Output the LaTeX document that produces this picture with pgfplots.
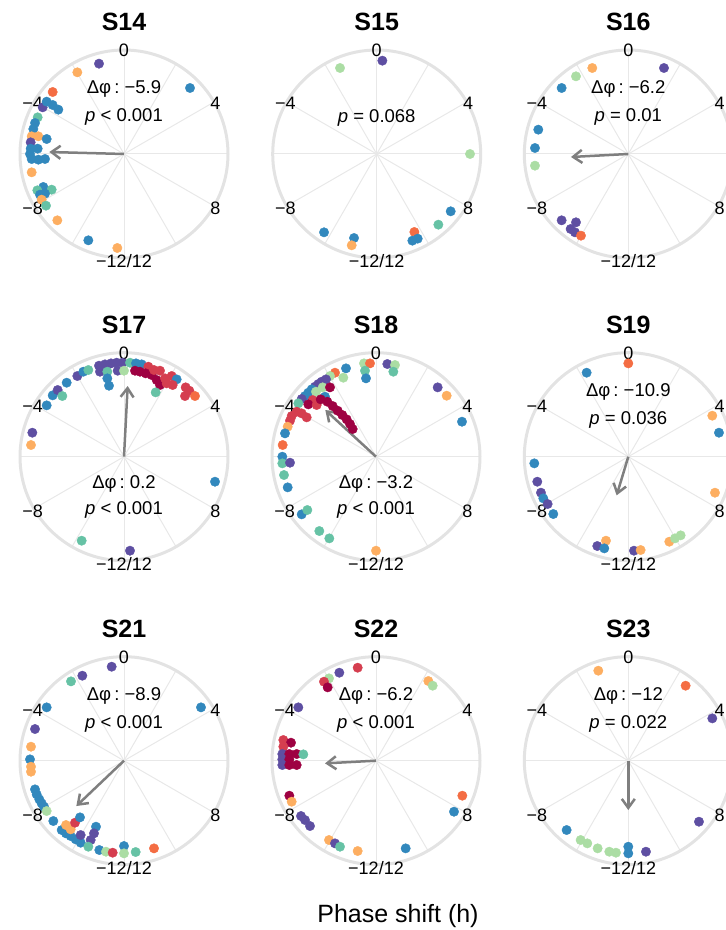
\documentclass[border=0pt]{standalone}
\usepackage{fontspec}
\setmainfont{Liberation Sans}
\usepackage{pgfplots}
\pgfplotsset{compat=1.18}
\usepackage{pgfplotstable}
\usetikzlibrary{arrows.meta}

% Spectral palette
\definecolor{cDR}{HTML}{9E0142}
\definecolor{cR}{HTML}{D53E4F}
\definecolor{cO}{HTML}{F46D43}
\definecolor{cLO}{HTML}{FDAE61}
\definecolor{cLG}{HTML}{ABDDA4}
\definecolor{cT}{HTML}{66C2A5}
\definecolor{cB}{HTML}{3288BD}
\definecolor{cP}{HTML}{5E4FA2}
\definecolor{ringc}{HTML}{E3E3E3}
\definecolor{spokec}{HTML}{E8E8E8}
\definecolor{arrc}{HTML}{7F7F7F}

\newcommand{\tickfs}{\fontsize{18}{21}\selectfont}
\newcommand{\annfs}{\fontsize{18.5}{21}\selectfont}
\newcommand{\bigfs}{\fontsize{25}{30}\selectfont}

% point positions, radius of circle = 312
\pgfplotstableread{
x y c
-75 271 P
-140 245 LO
-214 186 O
198 198 B
-244 140 P
-232 157 B
-214 147 B
-197 133 B
-259 110 T
-267 93 B
-272 75 B
-277 53 LO
-257 53 LO
-232 45 B
-280 35 P
-280 16 B
-259 16 B
-282 0 B
-277 -15 B
-257 -17 B
-237 -15 B
-277 -55 LO
-242 -99 B
-217 -107 T
-260 -109 T
-252 -122 B
-237 -119 B
-247 -137 LO
-234 -155 T
-200 -199 LO
-107 -259 B
-20 -282 LO
}\tabA

\pgfplotstableread{
x y c
17 280 P
-110 258 LG
280 0 LG
222 -172 B
185 -212 T
113 -234 O
107 -260 B
123 -254 B
-158 -235 B
-68 -252 B
-75 -274 LO
}\tabB

\pgfplotstableread{
x y c
-108 258 LO
107 258 P
-157 233 LG
-200 198 B
-270 73 B
-280 18 B
-280 -35 LG
-200 -199 P
-157 -205 P
-173 -225 P
-160 -235 P
-142 -245 O
}\tabC

\pgfplotstableread{
x y c
-275 72 P
-279 35 LO
-232 154 B
-214 184 B
-199 200 P
-185 182 T
-172 222 B
-140 242 P
-122 255 B
-107 260 T
-75 273 P
-57 277 P
-39 280 P
-22 282 P
-5 282 P
-72 255 P
-50 255 T
-19 258 P
-50 235 B
-45 213 B
0 258 LG
18 282 T
36 280 B
53 277 B
73 270 R
33 258 DR
48 255 DR
65 250 DR
83 245 DR
90 260 R
108 258 R
98 230 DR
108 215 DR
123 235 R
128 220 R
143 242 R
158 232 B
146 215 R
95 193 T
185 208 R
196 198 R
183 182 R
213 182 O
273 -75 B
-127 -252 T
18 -282 P
}\tabD

\pgfplotstableread{
x y c
-36 280 LG
-18 280 O
-33 258 T
-30 235 B
34 278 P
57 275 LG
52 255 T
-90 265 B
-123 252 O
-138 242 LG
-98 237 LG
-150 232 P
-163 225 P
-173 218 P
-183 210 P
-193 202 B
-203 192 B
-213 182 B
-223 173 P
-233 160 T
-180 195 LG
-160 208 LG
-138 208 DR
-153 180 B
-190 170 R
-203 157 DR
-178 155 R
-166 172 DR
-238 135 R
-253 122 R
-223 130 R
-208 118 R
-258 108 R
-265 90 LO
-273 70 B
-280 35 O
-281 0 B
-281 -20 T
-258 -18 P
-276 -55 T
-265 -92 B
-223 -173 B
-206 -160 T
-170 -223 T
-140 -245 T
0 -282 LO
-146 165 DR
-130 152 DR
-115 138 DR
-101 125 DR
-88 112 DR
-78 98 DR
-70 83 DR
185 208 P
212 183 LO
258 105 B
}\tabE

\pgfplotstableread{
x y c
0 280 O
-125 252 B
252 123 LO
272 72 B
260 -108 LO
-282 -20 B
-273 -75 P
-262 -108 P
-255 -125 B
-242 -142 P
-225 -172 B
-67 -252 LO
-93 -268 P
-72 -275 B
17 -282 P
37 -280 LO
123 -255 LO
140 -245 LG
157 -236 LG
}\tabF

\pgfplotstableread{
x y c
-37 282 P
-125 255 P
-159 238 T
-232 160 B
231 160 B
-267 95 P
-279 42 LO
-282 4 B
-279 -18 LO
-279 -33 LO
-267 -86 B
-262 -101 B
-254 -116 B
-247 -128 B
-240 -138 B
-232 -151 LG
-212 -181 B
-187 -208 B
-174 -218 B
-160 -226 B
-145 -236 B
-130 -246 B
-174 -193 LO
-160 -206 LO
-147 -186 R
-132 -170 B
-130 -223 P
-84 -198 B
-90 -218 P
-100 -238 P
-107 -258 T
-74 -268 B
-54 -273 LG
-34 -276 R
0 -256 B
0 -278 LG
35 -274 T
90 -263 O
}\tabG

\pgfplotstableread{
x y c
-55 279 R
-110 264 P
-141 247 LG
-156 237 R
-145 220 DR
157 239 LO
170 225 LG
-233 160 P
-278 62 R
-255 54 DR
-278 42 R
-281 20 P
-260 20 DR
-238 20 DR
-218 19 T
-281 4 P
-260 4 DR
-281 -13 P
-260 -13 DR
-238 -13 DR
-260 -105 DR
-253 -123 LO
-225 -166 P
-213 -178 P
-198 -196 P
-141 -238 LO
-123 -248 P
-108 -258 T
-55 -271 LO
89 -263 B
259 -105 O
234 -153 B
}\tabH

\pgfplotstableread{
x y c
-90 270 LO
172 225 O
252 127 P
212 -183 P
-185 -208 B
-143 -238 LG
-123 -248 LG
-92 -263 LG
-57 -273 LG
-37 -276 LG
0 -258 B
0 -278 B
53 -273 P
}\tabI

\pgfplotsset{
  panel/.style={width=208pt, height=208pt, scale only axis, hide axis,
    clip=false, anchor=center,
    xmin=-312, xmax=312, ymin=-312, ymax=312},
  dots/.style={scatter, only marks, mark=*, mark size=4.7pt,
    scatter src=explicit symbolic,
    scatter/classes={
      DR={mark=*,draw=cDR,fill=cDR}, R={mark=*,draw=cR,fill=cR},
      O={mark=*,draw=cO,fill=cO}, LO={mark=*,draw=cLO,fill=cLO},
      LG={mark=*,draw=cLG,fill=cLG}, T={mark=*,draw=cT,fill=cT},
      B={mark=*,draw=cB,fill=cB}, P={mark=*,draw=cP,fill=cP}}},
  shift arrow/.style={draw=arrc, line width=2.5pt,
    -{Straight Barb[length=9pt,width=13pt]}},
}
\tikzset{
  tl/.style={font=\tickfs, inner sep=0pt, anchor=center},
  ann/.style={font=\annfs, inner sep=0pt, anchor=base},
  ttl/.style={font=\bigfs\bfseries, inner sep=0pt, anchor=base},
}

\newcommand{\polarbg}[1]{%
  \draw[spokec, line width=1pt] (axis cs:0,312) -- (axis cs:0,-312);
  \draw[spokec, line width=1pt] (axis cs:156,270.2) -- (axis cs:-156,-270.2);
  \draw[spokec, line width=1pt] (axis cs:270.2,156) -- (axis cs:-270.2,-156);
  \draw[spokec, line width=1pt] (axis cs:312,0) -- (axis cs:-312,0);
  \draw[spokec, line width=1pt] (axis cs:270.2,-156) -- (axis cs:-270.2,156);
  \draw[spokec, line width=1pt] (axis cs:156,-270.2) -- (axis cs:-156,270.2);
  \draw[ringc, line width=3pt] (axis cs:0,0) circle[radius=312];
  \node[tl] at (axis cs:0,310) {0};
  \node[tl] at (axis cs:274,152) {4};
  \node[tl] at (axis cs:274,-164) {8};
  \node[tl] at (axis cs:0,-322) {−12/12};
  \node[tl] at (axis cs:-274,-164) {−8};
  \node[tl] at (axis cs:-274,152) {−4};
  \node[ttl] at (axis cs:0,369) {#1};
}

\begin{document}
\begin{tikzpicture}
\useasboundingbox (0,0) rectangle (726pt,930pt);
\clip (0,0) rectangle (726pt,930pt);

% row 1
\begin{axis}[panel, at={(124pt,776pt)}]
  \polarbg{S14}
  \addplot[dots] table[meta=c] {\tabA};
  \addplot[shift arrow] coordinates {(0,0) (-224,6)};
  \node[ann] at (axis cs:0,180) {Δφ\,:\ −5.9};
  \node[ann] at (axis cs:0,96) {\textit{p} < 0.001};
\end{axis}

\begin{axis}[panel, at={(376.7pt,776pt)}]
  \polarbg{S15}
  \addplot[dots] table[meta=c] {\tabB};
  \node[ann] at (axis cs:0,94) {\textit{p} = 0.068};
\end{axis}

\begin{axis}[panel, at={(628.3pt,776pt)}]
  \polarbg{S16}
  \addplot[dots] table[meta=c] {\tabC};
  \addplot[shift arrow] coordinates {(0,0) (-172,-9)};
  \node[ann] at (axis cs:0,180) {Δφ\,:\ −6.2};
  \node[ann] at (axis cs:0,96) {\textit{p} = 0.01};
\end{axis}

% row 2
\begin{axis}[panel, at={(124pt,473.3pt)}]
  \polarbg{S17}
  \addplot[dots] table[meta=c] {\tabD};
  \addplot[shift arrow] coordinates {(0,0) (11,212)};
  \node[ann] at (axis cs:0,-96) {Δφ\,:\ 0.2};
  \node[ann] at (axis cs:0,-174) {\textit{p} < 0.001};
\end{axis}

\begin{axis}[panel, at={(376pt,473.3pt)}]
  \polarbg{S18}
  \addplot[dots] table[meta=c] {\tabE};
  \addplot[shift arrow] coordinates {(0,0) (-152,140)};
  \node[ann] at (axis cs:0,-96) {Δφ\,:\ −3.2};
  \node[ann] at (axis cs:0,-174) {\textit{p} < 0.001};
\end{axis}

\begin{axis}[panel, at={(628.3pt,473.3pt)}]
  \polarbg{S19}
  \addplot[dots] table[meta=c] {\tabF};
  \addplot[shift arrow] coordinates {(0,0) (-35,-116)};
  \node[ann] at (axis cs:0,180) {Δφ\,:\ −10.9};
  \node[ann] at (axis cs:0,96) {\textit{p} = 0.036};
\end{axis}

% row 3
\begin{axis}[panel, at={(124pt,169.3pt)}]
  \polarbg{S21}
  \addplot[dots] table[meta=c] {\tabG};
  \addplot[shift arrow] coordinates {(0,0) (-143,-136)};
  \node[ann] at (axis cs:0,180) {Δφ\,:\ −8.9};
  \node[ann] at (axis cs:0,96) {\textit{p} < 0.001};
\end{axis}

\begin{axis}[panel, at={(376pt,169.3pt)}]
  \polarbg{S22}
  \addplot[dots] table[meta=c] {\tabH};
  \addplot[shift arrow] coordinates {(0,0) (-153,-8)};
  \node[ann] at (axis cs:0,180) {Δφ\,:\ −6.2};
  \node[ann] at (axis cs:0,96) {\textit{p} < 0.001};
\end{axis}

\begin{axis}[panel, at={(628.3pt,169.3pt)}]
  \polarbg{S23}
  \addplot[dots] table[meta=c] {\tabI};
  \addplot[shift arrow] coordinates {(0,0) (0,-148)};
  \node[ann] at (axis cs:0,180) {Δφ\,:\ −12};
  \node[ann] at (axis cs:0,96) {\textit{p} = 0.022};
\end{axis}

\node[anchor=base, inner sep=0pt, font=\bigfs] at (398pt,8pt) {Phase shift (h)};
\end{tikzpicture}
\end{document}
